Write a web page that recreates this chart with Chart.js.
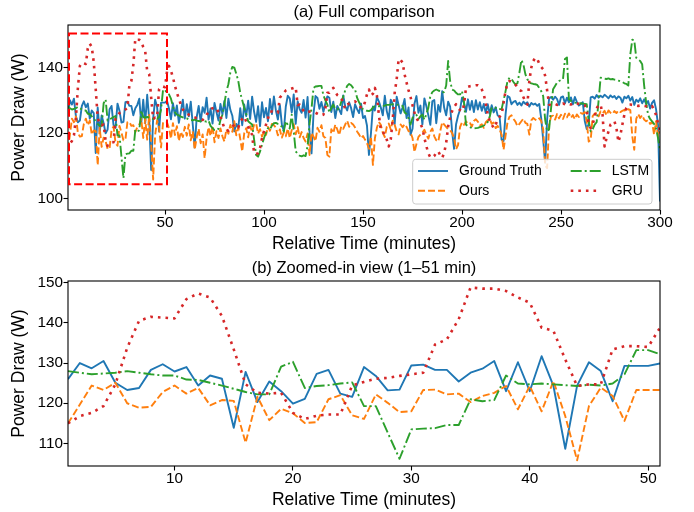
<!DOCTYPE html>
<html><head><meta charset="utf-8">
<script src="https://cdn.jsdelivr.net/npm/chart.js@4.4.1/dist/chart.umd.min.js"></script>
<style>
html,body{margin:0;padding:0;background:#fff;}
#wrap{position:relative;width:694px;height:512px;background:#fff;}
canvas{position:absolute;left:0;}
</style></head>
<body><div id="wrap"><canvas id="c1" width="694" height="256" style="top:0"></canvas><canvas id="c2" width="694" height="256" style="top:256px"></canvas></div>
<script>
const FONT = "'Liberation Sans', Arial, Helvetica, sans-serif";

const seriesNames = ['Ground Truth', 'Ours', 'LSTM', 'GRU'];

const groundTruth = [
126, 130, 128.7, 130.5, 125.1, 123.3, 123.8, 128.3, 129.7, 127.9,
129, 124.4, 126.9, 126.1, 113.9, 127.8, 120.3, 125.4, 123, 119.9,
121.1, 127.3, 128.3, 122.4, 121.6, 129, 126.8, 123.2, 123.4, 129.4,
129.6, 128.3, 128.3, 125.4, 127.6, 128.6, 130.5, 123, 130.2, 123,
131.7, 124.3, 108.7, 124.4, 130.2, 128, 120.5, 129.3, 129.3, 129.3,
129.9, 127.5, 124.2, 129.1, 125.3, 128.4, 123.1, 126.6, 130.2, 124.4,
128.8, 125.1, 129.6, 122.7, 115.6, 124.9, 128.3, 123.5, 127.9, 126.2,
130.8, 124.1, 127.5, 122.9, 129.2, 126.4, 123.8, 128.9, 125.7, 129.8,
124.6, 130.5, 127.1, 125.3, 120.5, 122.8, 121.4, 127.6, 122.4, 128.7,
125.2, 129.9, 124.3, 131.1, 126.5, 123.4, 128.2, 122.1, 129.4, 124.8,
127.7, 123.6, 130.4, 125.8, 131.2, 126.9, 124.1, 128.6, 122.7, 120.6,
128.1, 131.4, 130.6, 126.3, 131.8, 122.8, 129.7, 127.3, 126.2, 130.1,
124.7, 131.0, 120.2, 113.8, 125.9, 131.3, 130.7, 127.4, 129.5, 126.5,
129.1, 131.2, 130.8, 126.4, 129.6, 124.6, 128.3, 127.1, 125.8, 131.5,
128.2, 126.9, 129.4, 127.6, 124.9, 128.8, 127.3, 126.1, 129.0, 124.6,
125.2, 122.3, 113.3, 119.8, 128.1, 126.9, 131.0, 129.7, 127.8, 125.4,
131.4, 126.7, 124.3, 130.2, 128.9, 122.8, 131.1, 128.5, 126.0, 127.9,
130.4, 124.6, 127.8, 119.5, 121.3, 129.0, 131.3, 126.2, 128.4, 122.6,
130.6, 128.2, 125.4, 122.5, 129.7, 130.1, 123.0, 128.6, 126.5, 132.8,
127.7, 125.4, 129.6, 128.1, 120.5, 115.2, 122.7, 125.3, 127.1, 130.8,
129.2, 126.5, 130.3, 127.1, 129.8, 126.4, 130.0, 127.2, 129.4, 126.8,
128.9, 126.1, 128.8, 125.9, 128.5, 126.3, 127.9, 125.4, 124.9, 118.0,
117.6, 125.7, 131.3, 130.9, 128.8, 129.5, 129.8, 128.6, 129.3, 128.4,
129.6, 128.9, 129.4, 128.1, 129.2, 128.7, 129.0, 128.3, 128.9, 124.5,
118.0, 111.0, 124.3, 130.6, 131.0, 130.2, 131.1, 130.4, 128.6, 130.9,
131.2, 129.1, 130.8, 129.4, 130.9, 128.8, 131.0, 129.5, 128.4, 128.8,
129.4, 123.7, 121.2, 122.8, 130.9, 131.1, 130.5, 131.6, 130.8, 131.4,
130.9, 131.7, 131.2, 130.6, 131.5, 130.9, 131.3, 130.4, 131.2, 130.8,
129.3, 131.1, 130.6, 131.4, 129.9, 131.0, 128.6, 130.2, 129.5, 130.6,
129.1, 130.3, 128.9, 129.8, 127.5, 129.2, 130.0, 127.3, 122.6, 99.1
];

const ours = [
115, 119.7, 124.4, 123.3, 125.1, 120, 118.9, 119.1, 122.8, 124.4,
122.4, 123.8, 119.5, 120.8, 120.6, 110.2, 121.6, 115.8, 118.6, 117.5,
115.1, 115.3, 121, 122, 117, 116.1, 122.2, 120.1, 117.8, 118,
123.3, 123.4, 122.2, 122.4, 120.3, 121.8, 122.6, 124.3, 118.5, 124.3,
118, 125.5, 116.8, 105.8, 119.3, 123.9, 121.8, 115.6, 123.3, 123.3,
123.3, 121.5, 118.3, 123.0, 119.4, 122.1, 117.6, 120.4, 118.8, 121.9,
119.2, 122.6, 117.8, 120.5, 114.9, 118.7, 121.3, 116.9, 119.6, 112.3,
118.4, 121.8, 119.1, 122.3, 117.2, 120.6, 118.5, 121.4, 119.0, 117.4,
121.2, 119.8, 122.5, 120.4, 123.6, 119.3, 121.7, 118.2, 114.4, 119.9,
121.5, 118.7, 122.1, 120.3, 122.6, 123.0, 119.8, 121.2, 118.9, 120.5,
119.4, 121.9, 120.7, 122.8, 122.4, 121.6, 119.3, 121.1, 118.6, 120.2,
119.0, 121.4, 118.5, 120.9, 122.7, 119.6, 121.8, 118.7, 120.3, 118.5,
117.4, 119.9, 113.3, 120.1, 118.9, 117.5, 121.6, 120.4, 122.4, 119.0,
118.5, 113.3, 112.8, 121.2, 120.0, 122.6, 121.1, 119.4, 122.0, 121.3,
122.6, 123.8, 121.9, 123.1, 122.6, 121.7, 120.5, 119.6, 118.4, 119.1,
118.0, 117.0, 115.2, 118.9, 110.3, 118.4, 121.6, 123.4, 122.5, 120.1,
118.8, 121.9, 122.9, 121.1, 123.8, 122.5, 120.5, 119.6, 122.6, 121.8,
122.7, 121.9, 120.6, 120.2, 118.5, 114.2, 116.7, 118.8, 119.5, 120.2,
121.0, 119.4, 118.3, 120.4, 121.4, 119.0, 117.8, 117.4, 120.6, 123.3,
122.6, 121.9, 121.2, 120.9, 120.0, 118.5, 115.1, 116.3, 121.8, 123.3,
122.5, 123.6, 122.9, 123.1, 122.0, 123.7, 124.2, 123.5, 122.3, 122.7,
121.6, 123.3, 123.9, 124.4, 122.8, 123.2, 121.5, 122.2, 121.0, 119.5,
114.9, 119.2, 123.4, 125.0, 125.4, 124.3, 123.5, 122.1, 122.8, 123.6,
124.4, 123.1, 122.8, 119.5, 123.9, 124.6, 124.1, 123.8, 124.5, 123.7,
121.2, 110.1, 109.3, 122.6, 125.1, 125.3, 124.1, 125.8, 124.5, 125.6,
124.3, 125.9, 124.8, 126.0, 124.6, 125.5, 124.2, 125.7, 124.9, 126.1,
125.9, 126.4, 123.5, 117.4, 117.9, 125.2, 125.9, 126.3, 125.1, 126.6,
126.0, 126.8, 125.4, 126.9, 126.2, 125.8, 126.7, 126.1, 126.9, 126.4,
126.8, 127.1, 126.5, 127.3, 127.0, 119.0, 114.9, 124.3, 125.8, 124.6,
125.5, 124.1, 123.6, 124.0, 122.8, 123.4, 119.5, 123.6, 118.9, 120.5
];

const lstm = [
128, 127.6, 127.2, 127.4, 127.6, 128, 127.6, 127.2, 126.9, 126.9,
125.9, 125.8, 125.1, 124.4, 123.6, 122.8, 122.2, 122.2, 129.1, 130.3,
123.8, 124.3, 124.5, 124.9, 125.2, 119.3, 119.3, 112.7, 106.2, 113.5,
113.7, 113.8, 114.6, 114.6, 121, 120.5, 120.8, 126.9, 124.9, 124.7,
124.9, 124.7, 124.5, 124.3, 124.6, 124.4, 124.9, 127.2, 133.2, 133.2,
132.2, 131.8, 130.5, 128.2, 126.4, 125.6, 125.4, 125.0, 124.8, 124.6,
124.5, 124.2, 124.0, 123.9, 124.1, 123.8, 123.7, 123.6, 123.7, 123.6,
123.5, 123.8, 122.2, 121.5, 120.9, 120.8, 121.3, 124.0, 125.6, 129.0,
132.8, 134.9, 138.5, 140.2, 140.0, 138.1, 135.9, 132.3, 130.0, 127.7,
125.8, 123.6, 123.1, 122.6, 118.0, 113.3, 112.8, 114.4, 116.5, 118.5,
120.1, 121.5, 121.0, 122.3, 123.0, 123.1, 122.8, 122.6, 121.9, 120.5,
123.6, 122.5, 121.4, 125.6, 120.5, 114.4, 113.6, 113.1, 112.9, 113.2,
113.0, 116.0, 122.8, 127.5, 133.8, 134.2, 134.3, 134.4, 134.4, 131.5,
130.0, 128.7, 126.2, 127.7, 128.7, 127.4, 127.2, 127.7, 129.5, 131.1,
133.0, 134.4, 135.0, 134.6, 133.8, 133.3, 130.8, 129.4, 128.3, 127.2,
127.1, 126.8, 126.7, 127.0, 127.8, 128.2, 128.1, 128.2, 128.3, 128.2,
128.4, 128.6, 128.6, 128.7, 128.8, 128.9, 128.7, 128.6, 128.4, 128.3,
126.3, 125.8, 124.5, 122.6, 124.6, 125.3, 125.5, 124.3, 125.1, 125.6,
124.1, 125.8, 127.7, 131.3, 132.5, 133.0, 133.3, 133.0, 132.8, 132.3,
132.6, 134.5, 142.0, 135.9, 133.3, 133.0, 132.3, 131.8, 131.8, 132.8,
129.5, 122.6, 122.0, 121.8, 121.5, 121.4, 121.5, 121.6, 121.8, 122.0,
122.3, 122.6, 123.4, 125.0, 127.7, 127.8, 127.7, 127.2, 127.3, 127.3,
130.0, 132.8, 135.9, 136.9, 136.5, 135.6, 134.8, 135.2, 138.5, 142.3,
141.0, 138.0, 136.4, 135.4, 135.2, 135.0, 134.9, 134.7, 133.8, 132.8,
131.3, 124.0, 120.5, 121.2, 127.7, 133.4, 134.4, 135.4, 135.9, 136.2,
136.4, 142.6, 143.1, 130.3, 129.8, 129.5, 129.3, 129.2, 129.0, 129.1,
129.0, 128.9, 128.8, 123.6, 120.5, 121.2, 122.6, 123.3, 130.0, 136.9,
136.8, 136.6, 136.5, 136.7, 136.4, 136.5, 136.3, 136.2, 136.0, 135.8,
135.6, 135.2, 135.0, 134.5, 144.0, 148.5, 148.3, 143.0, 142.4, 142.0,
141.0, 134.5, 129.4, 125.5, 124.3, 123.6, 122.8, 121.5, 118.5, 114.5
];

const gru = [
115, 116.8, 117.6, 119.3, 124.7, 133.8, 140.5, 141.5, 141.3, 141.1,
145.9, 147.3, 146.3, 141.7, 133.4, 124.7, 122.6, 122.4, 122.6, 117.6,
116.1, 116.9, 117.2, 117.2, 124.4, 125.3, 126.1, 126.3, 126.8, 127.2,
127.6, 134.6, 135.9, 140.9, 148.8, 148.5, 148.5, 147.9, 146.3, 145,
138.8, 138, 130.9, 124.3, 124.7, 124.7, 133.4, 134.2, 134.2, 134,
138.8, 140.5, 139.0, 137.0, 134.5, 132.3, 130.5, 128.7, 127.2, 126.6,
126.0, 125.6, 125.3, 125.0, 124.8, 124.5, 124.3, 124.2, 124.0, 124.6,
125.6, 126.4, 127.2, 127.6, 127.7, 127.7, 126.3, 125.0, 123.2, 121.5,
121.0, 120.7, 121.2, 121.9, 122.6, 122.1, 121.7, 123.4, 124.3, 125.0,
123.5, 121.8, 120.5, 119.5, 113.8, 113.6, 113.8, 115.4, 118.5, 120.6,
122.6, 124.5, 126.5, 126.6, 126.5, 126.3, 126.2, 130.8, 131.6, 132.3,
133.0, 133.3, 133.4, 133.6, 133.8, 134.0, 128.5, 128.7, 127.5, 126.8,
126.2, 126.4, 126.6, 126.5, 126.3, 126.2, 125.9, 125.6, 125.4, 125.6,
127.6, 132.3, 132.3, 133.0, 133.8, 132.6, 131.6, 131.2, 130.9, 128.9,
127.5, 128.7, 129.0, 129.2, 129.4, 129.7, 129.0, 128.2, 127.9, 127.7,
129.5, 131.8, 133.3, 131.5, 132.0, 133.8, 131.5, 125.6, 121.0, 120.5,
119.3, 118.0, 115.9, 118.0, 124.0, 132.3, 136.4, 142.6, 142.3, 141.5,
137.9, 135.4, 133.0, 131.0, 128.5, 126.3, 124.6, 123.5, 122.8, 121.5,
118.5, 116.0, 113.8, 112.6, 112.5, 113.0, 114.1, 114.4, 113.2, 112.4,
114.0, 117.0, 122.0, 124.8, 126.7, 128.0, 128.8, 127.6, 127.0, 126.6,
128.5, 133.8, 134.1, 134.3, 134.4, 134.5, 134.6, 134.6, 134.3, 133.3,
131.8, 129.0, 125.6, 123.8, 122.6, 121.5, 122.6, 124.0, 125.0, 125.6,
129.2, 132.8, 135.4, 135.9, 135.6, 135.4, 134.8, 134.0, 133.2, 132.8,
131.0, 129.6, 128.7, 135.9, 140.0, 142.0, 143.0, 142.6, 141.2, 140.2,
139.5, 137.5, 133.0, 128.7, 128.5, 128.7, 128.9, 128.6, 128.8, 128.7,
129.0, 128.8, 128.6, 128.9, 128.7, 129.0, 129.3, 129.1, 128.9, 128.8,
128.7, 128.5, 127.0, 122.6, 121.5, 122.6, 125.0, 127.6, 128.5, 128.7,
125.6, 115.9, 118.5, 120.5, 122.6, 123.0, 123.6, 121.5, 117.3, 119.4,
122.6, 125.6, 127.7, 128.7, 128.7, 128.6, 128.5, 128.4, 128.3, 128.4,
128.2, 128.3, 128.2, 128.0, 127.9, 128.2, 127.1, 125.5, 123.0, 120.5
];

const fullTimeRange = [1, 300];
const fullPowerRange = [96.5, 153];
const fullXTicks = [50, 100, 150, 200, 250, 300];
const fullYTicks = [100, 120, 140];

const zoomTimeRange = [1, 51];
const zoomPowerRange = [104.4, 150.4];
const zoomXTicks = [10, 20, 30, 40, 50];
const zoomYTicks = [110, 120, 130, 140, 150];

const minutes = groundTruth.map((_, i) => i + 1);
const allSeries = [groundTruth, ours, lstm, gru];

const lineStyles = [
  { color: '#1f77b4', dash: [], width: 1.9 },
  { color: '#ff7f0e', dash: [7, 3], width: 1.9 },
  { color: '#2ca02c', dash: [11, 3, 2, 3], width: 1.9 },
  { color: '#d62728', dash: [2.6, 5], width: 2.6 }
];

function buildDatasets(lastMinute) {
  return allSeries.map((arr, k) => ({
    label: seriesNames[k],
    data: minutes.filter(m => m <= lastMinute).map((m, i) => ({ x: m, y: arr[i] })),
    borderColor: lineStyles[k].color,
    borderWidth: lineStyles[k].width,
    borderDash: lineStyles[k].dash,
    borderCapStyle: 'butt',
    borderJoinStyle: 'round',
    pointRadius: 0,
    tension: 0,
    fill: false,
    order: 3 - k
  }));
}

function xAxis(range, ticks) {
  return {
    type: 'linear', min: range[0], max: range[1],
    afterBuildTicks: s => { s.ticks = ticks.map(v => ({ value: v })); },
    afterFit: s => { s.height = 46; },
    grid: { display: true, drawOnChartArea: false, drawTicks: true, tickLength: 4.5, tickWidth: 1.1, tickColor: '#000' },
    border: { display: false },
    ticks: { color: '#000', font: { family: FONT, size: 15.3 }, padding: -1, maxRotation: 0, autoSkip: false, callback: v => String(v) },
    title: { display: true, text: 'Relative Time (minutes)', color: '#000', font: { family: FONT, size: 17.5 }, padding: { top: 0, bottom: 1.5 } }
  };
}
function yAxis(range, ticks) {
  return {
    type: 'linear', min: range[0], max: range[1],
    afterBuildTicks: s => { s.ticks = ticks.map(v => ({ value: v })); },
    afterFit: s => { s.width = 68; },
    grid: { display: true, drawOnChartArea: false, drawTicks: true, tickLength: 4.5, tickWidth: 1.1, tickColor: '#000' },
    border: { display: false },
    ticks: { color: '#000', font: { family: FONT, size: 15.3 }, padding: 0.5, autoSkip: false, callback: v => String(v) },
    title: { display: true, text: 'Power Draw (W)', color: '#000', font: { family: FONT, size: 17.5 }, padding: { top: 9, bottom: 0 } }
  };
}

const framePlugin = {
  id: 'frame',
  afterDatasetsDraw(chart) {
    const { ctx, chartArea: a } = chart;
    ctx.save();
    ctx.strokeStyle = '#000';
    ctx.lineWidth = 1.1;
    ctx.setLineDash([]);
    ctx.strokeRect(a.left, a.top, a.right - a.left, a.bottom - a.top);
    ctx.restore();
  }
};

const zoomBoxPlugin = {
  id: 'zoomBox',
  afterDatasetsDraw(chart) {
    const { ctx, scales: { x, y } } = chart;
    const l = x.getPixelForValue(zoomTimeRange[0]);
    const r = x.getPixelForValue(zoomTimeRange[1]);
    const t = y.getPixelForValue(zoomPowerRange[1]);
    const b = y.getPixelForValue(zoomPowerRange[0]);
    ctx.save();
    ctx.strokeStyle = '#ff0000';
    ctx.lineWidth = 2;
    ctx.setLineDash([8, 3.5]);
    ctx.strokeRect(l + 1, t, r - l - 1, b - t);
    ctx.restore();
  }
};

const legendPlugin = {
  id: 'insideLegend',
  afterDraw(chart) {
    const { ctx, chartArea: a } = chart;
    const w = 239.3, h = 44.7;
    const x0 = a.right - 8 - w, y0 = a.bottom - 6 - h;
    ctx.save();
    ctx.beginPath();
    ctx.roundRect(x0, y0, w, h, 3);
    ctx.fillStyle = 'rgba(255,255,255,0.8)';
    ctx.fill();
    ctx.strokeStyle = '#cccccc';
    ctx.lineWidth = 1;
    ctx.stroke();
    const layout = [[0, 0, 0], [1, 0, 1], [2, 1, 0], [3, 1, 1]];
    const colX = [x0 + 5.3, x0 + 158];
    const rowY = [y0 + 11.7, y0 + 31.4];
    ctx.font = '14px ' + FONT;
    ctx.textBaseline = 'middle';
    ctx.textAlign = 'left';
    layout.forEach(([k, c, r]) => {
      const st = lineStyles[k];
      ctx.beginPath();
      ctx.setLineDash(st.dash);
      ctx.lineCap = 'butt';
      ctx.strokeStyle = st.color;
      ctx.lineWidth = st.width;
      ctx.moveTo(colX[c], rowY[r]);
      ctx.lineTo(colX[c] + 30, rowY[r]);
      ctx.stroke();
      ctx.setLineDash([]);
      ctx.fillStyle = '#000';
      ctx.fillText(seriesNames[k], colX[c] + 41, rowY[r] + 0.5);
    });
    ctx.restore();
  }
};

function makeOptions(titleText, xr, xt, yr, yt) {
  return {
    responsive: false, animation: false, devicePixelRatio: 1, events: [],
    layout: { padding: { left: 0, right: 34, top: 0, bottom: 0 } },
    plugins: {
      legend: { display: false },
      tooltip: { enabled: false },
      title: { display: true, text: titleText, color: '#000', fullSize: false,
        font: { family: FONT, size: 16.5, weight: 'normal' }, padding: { top: 3, bottom: 2.2 } }
    },
    scales: { x: xAxis(xr, xt), y: yAxis(yr, yt) }
  };
}

new Chart(document.getElementById('c1'), {
  type: 'line',
  data: { datasets: buildDatasets(fullTimeRange[1]) },
  options: makeOptions('(a) Full comparison', fullTimeRange, fullXTicks, fullPowerRange, fullYTicks),
  plugins: [framePlugin, zoomBoxPlugin, legendPlugin]
});

new Chart(document.getElementById('c2'), {
  type: 'line',
  data: { datasets: buildDatasets(zoomTimeRange[1]) },
  options: makeOptions('(b) Zoomed-in view (1\u201351 min)', zoomTimeRange, zoomXTicks, zoomPowerRange, zoomYTicks),
  plugins: [framePlugin]
});
</script>
</body></html>
